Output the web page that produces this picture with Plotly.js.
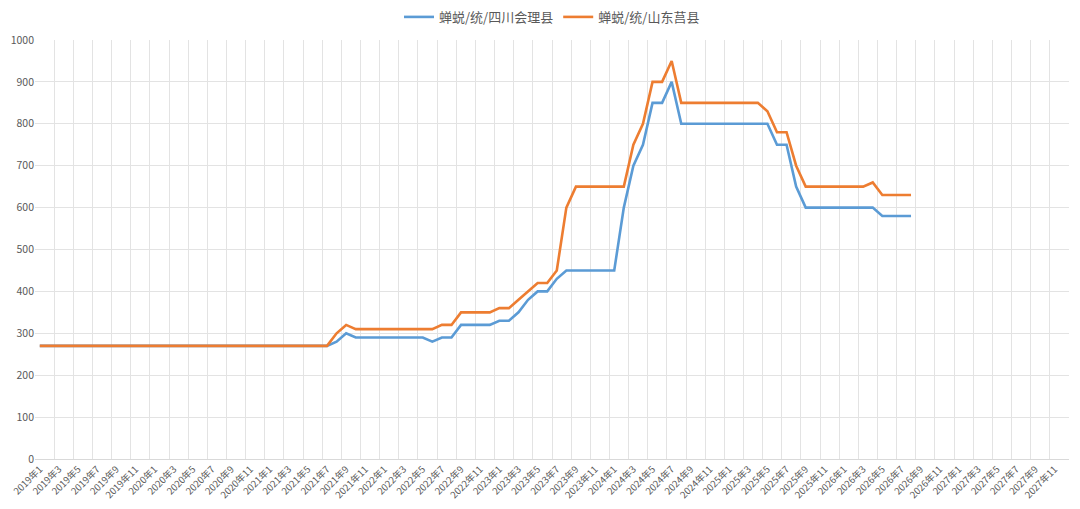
<!DOCTYPE html>
<html>
<head>
<meta charset="utf-8">
<script src="https://cdn.plot.ly/plotly-3.0.1.min.js"></script>
<style>
  html, body { margin: 0; padding: 0; background: #fff; }
  #myDiv { width: 1080px; height: 509px; }
</style>
</head>
<body>
<div id="myDiv"></div>
<script>
// months 2019年1 .. 2027年12
var years = [2019, 2020, 2021, 2022, 2023, 2024, 2025, 2026, 2027];
var categories = [];
years.forEach(function (y) {
    for (var m = 1; m <= 12; m++) categories.push(y + '年' + m);
});

// 蝉蜕/统/四川会理县
var sichuan = [
    270, 270, 270, 270, 270, 270, 270, 270, 270, 270, 270, 270,
    270, 270, 270, 270, 270, 270, 270, 270, 270, 270, 270, 270,
    270, 270, 270, 270, 270, 270, 270, 280, 300, 290, 290, 290,
    290, 290, 290, 290, 290, 280, 290, 290, 320, 320, 320, 320,
    330, 330, 350, 380, 400, 400, 430, 450, 450, 450, 450, 450,
    450, 600, 700, 750, 850, 850, 900, 800, 800, 800, 800, 800,
    800, 800, 800, 800, 800, 750, 750, 650, 600, 600, 600, 600,
    600, 600, 600, 600, 580, 580, 580, 580
];

// 蝉蜕/统/山东莒县
var shandong = [
    270, 270, 270, 270, 270, 270, 270, 270, 270, 270, 270, 270,
    270, 270, 270, 270, 270, 270, 270, 270, 270, 270, 270, 270,
    270, 270, 270, 270, 270, 270, 270, 300, 320, 310, 310, 310,
    310, 310, 310, 310, 310, 310, 320, 320, 350, 350, 350, 350,
    360, 360, 380, 400, 420, 420, 450, 600, 650, 650, 650, 650,
    650, 650, 750, 800, 900, 900, 950, 850, 850, 850, 850, 850,
    850, 850, 850, 850, 830, 780, 780, 700, 650, 650, 650, 650,
    650, 650, 650, 660, 630, 630, 630, 630
];

var seriesNames = ['蝉蜕/统/四川会理县', '蝉蜕/统/山东莒县'];
var colors = ['#5B9BD5', '#ED7D31'];

function idx(arr) { return arr.map(function (_, i) { return i; }); }

var tickVals = [], tickText = [];
for (var i = 0; i < categories.length; i += 2) {
    tickVals.push(i);
    tickText.push(categories[i]);
}

var data = [sichuan, shandong].map(function (s, k) {
    return {
        x: idx(s),
        y: s,
        type: 'scatter',
        mode: 'lines',
        name: seriesNames[k],
        line: { color: colors[k], width: 2.6 },
        hoverinfo: 'skip'
    };
});

var layout = {
    width: 1080,
    height: 509,
    paper_bgcolor: '#ffffff',
    plot_bgcolor: '#ffffff',
    font: { family: '"Noto Sans CJK SC", "Noto Sans", sans-serif', color: '#595959' },
    margin: { l: 35, r: 11, t: 40, b: 50, pad: 0, autoexpand: false },
    showlegend: true,
    legend: {
        orientation: 'h',
        x: 0.5, xanchor: 'center',
        y: 1.055, yanchor: 'middle',
        font: { size: 13, color: '#595959' },
        itemwidth: 30,
        tracegroupgap: 0
    },
    xaxis: {
        type: 'linear',
        range: [-0.5, categories.length - 0.5],
        tickmode: 'array',
        tickvals: tickVals,
        ticktext: tickText,
        tickangle: -45,
        tickfont: { size: 9.5, color: '#595959' },
        ticks: '',
        showgrid: false,
        minor: {
            tick0: -0.5,
            dtick: 2,
            showgrid: true,
            gridcolor: '#e3e3e3',
            gridwidth: 1,
            ticks: ''
        },
        showline: true,
        linecolor: '#d9d9d9',
        zeroline: false,
        automargin: false,
        fixedrange: true
    },
    yaxis: {
        range: [0, 1000],
        dtick: 100,
        tickfont: { size: 10.5, color: '#595959' },
        showgrid: true,
        gridcolor: '#e3e3e3',
        zeroline: true,
        zerolinecolor: '#d9d9d9',
        showline: false,
        ticks: '',
        automargin: false,
        fixedrange: true
    }
};

Plotly.newPlot('myDiv', data, layout, { staticPlot: true, displayModeBar: false });
</script>
</body>
</html>
